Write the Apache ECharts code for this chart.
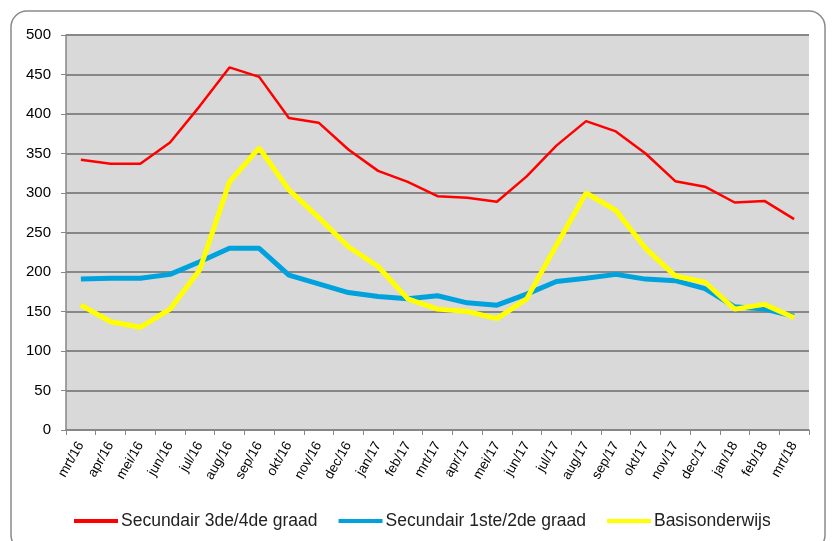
<!DOCTYPE html>
<html>
<head>
<meta charset="utf-8">
<script src="https://cdn.jsdelivr.net/npm/echarts@6/dist/echarts.min.js"></script>
<style>
  html, body { margin: 0; padding: 0; background: #fff; }
  #chart { width: 837px; height: 541px; }
</style>
</head>
<body>
<div id="chart"></div>
<script>
// maanden
const months = ['mrt/16', 'apr/16', 'mei/16', 'jun/16', 'jul/16', 'aug/16', 'sep/16', 'okt/16', 'nov/16', 'dec/16',
  'jan/17', 'feb/17', 'mrt/17', 'apr/17', 'mei/17', 'jun/17', 'jul/17', 'aug/17', 'sep/17', 'okt/17', 'nov/17', 'dec/17',
  'jan/18', 'feb/18', 'mrt/18'];

// reeksen
const sec34 = [342, 337, 337, 364, 410, 459, 447, 395, 389, 355, 328, 314, 296, 294, 289, 321, 360, 391, 378, 350, 315, 308, 288, 290, 267];
const sec12 = [191, 192, 192, 197, 213, 230, 230, 196, 185, 174, 169, 166, 170, 161, 158, 172, 188, 192, 197, 191, 189, 179, 156, 153, 144];
const basis = [158, 137, 130, 153, 203, 314, 357, 304, 269, 232, 207, 166, 153, 150, 141, 166, 234, 300, 278, 230, 195, 187, 153, 159, 142];

const yTicks = { min: 0, max: 500, interval: 50 };

const chart = echarts.init(document.getElementById('chart'));
const font = "'Liberation Sans', 'Noto Sans', sans-serif";

chart.setOption({
  backgroundColor: '#fff',
  textStyle: { fontFamily: font },
  // rand rond de grafiek
  graphic: [{
    type: 'rect',
    shape: { x: 11, y: 11, width: 814, height: 540, r: 16 },
    style: { fill: 'none', stroke: '#8a8a8a', lineWidth: 1.5 },
    silent: true
  }],
  grid: { left: 66, right: 28, top: 35, bottom: 111, show: true, backgroundColor: '#d9d9d9', borderWidth: 0 },
  legend: {
    top: 507,
    left: 69,
    itemWidth: 44,
    itemHeight: 4,
    itemGap: 21,
    icon: 'rect',
    textStyle: { fontSize: 17.5, color: '#222', fontFamily: font, padding: [0, 0, 0, -2] },
    data: ['Secundair 3de/4de graad', 'Secundair 1ste/2de graad', 'Basisonderwijs']
  },
  xAxis: {
    type: 'category',
    data: months,
    boundaryGap: true,
    axisLine: { lineStyle: { color: '#868686', width: 1.5 } },
    axisTick: { show: true, alignWithLabel: false, length: 5, lineStyle: { color: '#868686' } },
    axisLabel: { rotate: 60, fontSize: 13.5, color: '#000', interval: 0, margin: 13, fontFamily: font }
  },
  yAxis: {
    type: 'value',
    min: yTicks.min,
    max: yTicks.max,
    interval: yTicks.interval,
    axisLine: { show: true, lineStyle: { color: '#868686', width: 1.5 } },
    axisTick: { show: true, length: 5, lineStyle: { color: '#868686' } },
    axisLabel: { fontSize: 15, color: '#000', margin: 15, fontFamily: font },
    splitLine: { lineStyle: { color: '#878787', width: 2 } }
  },
  series: [
    {
      name: 'Secundair 3de/4de graad',
      type: 'line',
      data: sec34,
      symbol: 'none',
      color: '#ff0000',
      lineStyle: { width: 2.5 },
      z: 5
    },
    {
      name: 'Secundair 1ste/2de graad',
      type: 'line',
      data: sec12,
      symbol: 'none',
      color: '#00a2dd',
      lineStyle: { width: 5 },
      z: 3
    },
    {
      name: 'Basisonderwijs',
      type: 'line',
      data: basis,
      symbol: 'none',
      color: '#ffff00',
      lineStyle: { width: 5 },
      z: 4
    }
  ]
});
</script>
</body>
</html>
